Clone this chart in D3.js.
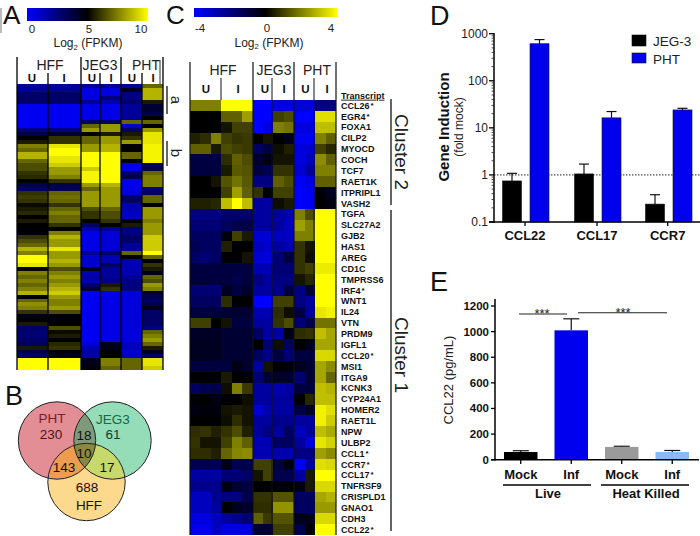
<!DOCTYPE html>
<html><head><meta charset="utf-8">
<script src="https://cdn.jsdelivr.net/npm/d3@7"></script>
<style>
html,body{margin:0;padding:0;background:#fff}
svg{display:block}
text{font-family:"Liberation Sans",Arial,sans-serif;fill:#111}
</style></head><body><div id="c"></div>
<script>
// ---------- Panel A values (Log2 FPKM), one list per condition, rows top to bottom
const hffU=[2,2,3,3,3,.3,.3,.3,.3,.3,.3,2.5,3.5,5,5.5,7.5,7,8.5,8.5,7,6.5,6.5,6,5.8,5,3.5,3,6,6.2,6,5.2,5.5,5.8,5,5.5,5,5,4.8,6,6.5,7,8.5,7.5,10,10,9.5,5,7.5,7,7.5,7,7.5,8.5,5,7,7.8,7.5,6,4.5,5,5.5,3,2.8,2.8,3,3.2,5.5,3.5,3,10,10,10];
const hffI=[2,2,3,3,3,.3,.3,.3,.3,.3,.3,2.5,4,6,6,9.5,10,10,9.5,9.5,9,8,8,7.5,6,3.5,3.5,7,7.2,7,6,7,7.5,7,7,6,5,7.5,8.5,8,8,9.5,8,8,8.5,8,6.5,7.5,8,7.5,8,8.5,9,8,7.5,7.5,8,6.5,5,4.8,5,6.5,5.2,5.5,5,5.8,6,5,4.5,10,10,10];
const jegU=[2,.6,.6,.6,2,.5,.5,.5,.5,3,7,8,5,7,7,8,8,10,10,10,10,9,9.8,9.8,9.8,8,7,8,8,8,8,6.5,6,6,5,3,1.5,.5,.5,.5,.5,.5,2,1,1,1,4.5,1.5,1.8,1.5,3,4,.3,.3,.3,.3,.3,.3,.3,.3,.3,.3,.3,.3,.3,.8,1.5,1.8,1.5,4.5,4.5,4.8];
const jegI=[2,.6,.6,2.5,1.5,.5,.5,.5,.5,3,8,8,5.5,8,8,8.5,8.5,10,10,10,10,10,10,10,10,8.5,8,8,8,8,8,7,6.5,6.5,6,5,2,.8,.8,.8,.8,.8,3,1.5,1.5,3,2,2,2,2.5,5.5,6,.5,.5,.5,.5,.5,.5,.5,.5,.5,.5,.5,.5,.5,4.5,4.5,5,5,7.5,7.5,7];
const phtU=[2,4.5,2.5,2.5,3,2,2,2,2,7,1,3,5.5,6,8,5,5,7,7,5,.5,.5,3,3.5,.5,.5,.5,.8,3,3,1.5,1.5,1.2,1.2,5,5.5,2.5,2.5,3,3,2,2,7,5,1.5,1.5,1.5,1.5,2,2.5,2.5,2.5,.7,.7,.7,.7,.7,.7,.7,.7,.7,.7,.7,.7,.7,1.3,1.3,.8,1.3,7,7,7];
const phtI=[7,8.5,8.5,8.5,5.5,4,4,3.5,5,7,5,8,9.5,9.5,9.5,9.8,9.8,9.8,9.8,9.8,3,3.5,7,7.5,7.5,7.5,2.5,3,7,7,5,8,8,8,7.5,8,8,8,9,9,9,9,10,7,5,6,5.5,4.5,7,6.5,8,7.5,4,3.5,3,3.5,4.5,3,3,3,3,2.5,7,7.5,8,7,5.5,4.5,3,9.5,9.5,9];
const columnsA=[hffU,hffI,jegU,jegI,phtU,phtI];
const groupsA=["HFF","JEG3","PHT"];
const subLabels=["U","I","U","I","U","I"];

// ---------- Panel B venn
const vennLabels=["PHT","JEG3","HFF"];
const vennCounts=[230,61,688,18,143,17,10];

// ---------- Panel C
const genes=["CCL26*","EGR4*","FOXA1","CILP2","MYOCD","COCH","TCF7","RAET1K","ITPRIPL1","VASH2","TGFA","SLC27A2","GJB2","HAS1","AREG","CD1C","TMPRSS6","IRF4*","WNT1","IL24","VTN","PRDM9","IGFL1","CCL20*","MSI1","ITGA9","KCNK3","CYP24A1","HOMER2","RAET1L","NPW","ULBP2","CCL1*","CCR7*","CCL17*","TNFRSF9","CRISPLD1","GNAO1","CDH3","CCL22*"];
const expressionC=[
[2,2,2,4,4,4,-4,-4,-3.5,-3.5,-3.5,-3.5,-2,-2],
[0,0,0,1.5,1.5,2.5,-4,-4,1,1.2,-4,-4,3.5,3.5],
[0,0,0,.3,1,1,-4,-3.5,2,1.8,-3.5,-3.5,3,3],
[.5,.7,2,1,.8,.9,0,.3,0,-.4,-3.8,-3.8,2,1.5],
[1.5,1.5,.4,1.2,1,.9,-1.5,-1,.2,.5,-3.5,-3.3,1,.6],
[-1,-1,-1,.7,1.5,1.2,-.7,-.3,.3,.3,-3.5,-3,2.2,1.5],
[-1,-1,-1,.4,1.4,1.3,-1,-1.3,.8,.8,-3.3,-2.5,2,2],
[0,0,.3,1.3,1.8,1.4,-2,-2,1.5,1.2,-3.8,-3.5,1.5,1.5],
[0,0,0,1,2.5,1.5,.8,0,1,1,-4,-3.8,0,-.5],
[.5,.5,.6,3,4,3,-2.5,-2.5,.2,.4,-4,-3.8,0,-.3],
[-2,-2,-2,-1.7,-1.7,-1.7,-2.5,-2.5,-2.5,-2.8,2,1.2,4,4],
[-1.8,-1.8,-1.8,-1.5,-1.2,-1.2,-2.5,-2.5,-2.5,-3,2.5,2,4,4],
[-1.5,-1.5,-1.5,-.2,1,.4,-3.3,-3.3,-3,-3,2,2,4,4],
[-1.3,-1.5,-1.5,.5,0,0,-3,-3.2,-2.5,-2.8,.8,.3,4,4],
[-1.5,-1.8,-1.5,0,0,.3,-3.3,-3.5,-1.8,-1,.8,.2,4,4],
[-1,-1,-1,-1,-1,-1,-2.8,-2.8,-1.8,-1.8,.8,1,3.7,3.7],
[-1,-1,-1,-1,-1.2,-1,-2,-2.5,-2,-2,.3,.6,4,4],
[-1.8,-1.8,-1.8,-.5,-1,-.7,-2.5,-2.5,-2.2,-1,-2,-.8,4,4],
[-1.5,-1.5,-1.5,.7,0,0,-4,-4,1,1,-2,-2.5,4,4],
[-1,-1,-1,-.8,-.8,-.8,-2.8,-2.8,.7,.2,-1,-2.5,3.6,3.8],
[1,1,0,.3,-1,-1,-2.5,-2.5,.8,1.2,-1.8,-1.2,1.8,1.8],
[-.6,-.6,-.6,-.8,-.8,-.8,-1.5,-2.5,-2.5,-.3,.7,.8,3,2.6],
[-.5,-.5,-.5,-.8,-.8,-.8,0,-1.8,.2,-1.5,0,-.5,2.6,2.6],
[-.5,-.5,-.5,-.8,-.8,-.8,-1.5,-2,-1,-1.8,-1,-1,3.4,3.4],
[-1,-1,-1,-1,-.3,-.7,-2.5,.3,-.2,-.2,-.5,-.8,2.6,2.2],
[0,0,0,.4,0,0,-1.8,-.8,-.7,-.7,-1.8,-.8,2.6,1.6],
[-1.5,-1.2,-1.2,.2,2,.9,-2.5,-2.5,-2.8,-2.5,-1,-1,3,2.8],
[0,0,-.3,0,0,.2,-2.5,-2.5,-2.5,-2.5,0,.6,3,3],
[-.3,-.2,-.2,.3,.4,.3,-3.3,-2.7,-2.5,-2.5,-1,-.5,3.8,3.5],
[0,0,0,.2,.7,.3,-2.5,-2.5,-2.2,-2.2,-2.5,-2.5,3.8,3.2],
[.7,.8,.5,.8,1.2,.5,-2.5,-2,-2.5,-1.5,-3,-2.5,3,2.7],
[.8,.3,.3,1,2,1.5,-2.8,-2.8,-1.5,-1.5,-2.5,-3.5,3.6,3.3],
[.7,.7,.5,1.6,2.1,2.2,-2.8,-2.8,-2.7,-2.7,-2,-2,2.5,2.2],
[-1.2,-1.2,-1.3,-.3,-1.2,-1.2,1,1,-1,-.3,-3.8,-2.5,3.5,3.4],
[-2.5,-2.5,-2.5,-1.8,-1.8,-1.6,.3,1,-1.2,-1.2,-2.5,.4,4,4],
[-2.2,-2.2,-2.2,-.3,-.8,-1,0,0,-.2,-.2,-.3,.4,3.4,3.4],
[-3,-3,-2.2,-2,-2,-1.2,.8,.8,1.3,1.3,-1.5,-1.5,2.6,2.8],
[-3,-3,-2.5,0,-.5,-.7,.7,.7,2.3,2.3,-1.5,-1.5,2.4,2.4],
[-3.5,-3.5,-3,-2.5,-2.2,-1.8,1.5,.9,1.3,1.3,-.4,-.5,3.4,3.4],
[-3.7,-3.7,-3,-3.5,-3.5,-3.5,-.8,-.8,1,1,-1.2,0,4,4]];

// ---------- Panel D
const categoriesD=["CCL22","CCL17","CCR7"];
const seriesD=["JEG-3","PHT"];
const jegMeans=[.745,1.05,.24];
const jegTops=[1.08,1.7,.38];
const phtMeans=[612,16.3,24];
const phtTops=[750,22.2,26];
const ticksD=[1000,100,10,1,0.1];
const minorD=[200,300,400,500,600,700,800,900,20,30,40,50,60,70,80,90,2,3,4,5,6,7,8,9,.2,.3,.4,.5,.6,.7,.8,.9];

// ---------- Panel E
const labelsE=["Mock","Inf","Mock","Inf"];
const meansE=[60,1010,100,60];
const topsE=[70,1100,105,72];
const coloursE=["#000000","#0000ee","#9a9a9a","#8cb9f0"];
const ticksE=[0,200,400,600,800,1000,1200];

const svg=d3.select("#c").append("svg").attr("width",700).attr("height",536);
const defs=svg.append("defs");
const line=(g,x1,y1,x2,y2,w=1,c="#111")=>g.append("line").attr("x1",x1).attr("y1",y1).attr("x2",x2).attr("y2",y2).attr("stroke",c).attr("stroke-width",w);
const txt=(g,x,y,s,size,o={})=>g.append("text").attr("x",x).attr("y",y).attr("font-size",size).attr("text-anchor",o.anchor||"middle").attr("font-weight",o.weight||"normal").style("fill",o.fill||"#111").text(s);

// panel letters
[["A",3,23.7,26],["C",166,23.7,26],["B",5,405,27],["D",430,25,27],["E",430,291,27]].forEach(d=>txt(svg,d[1],d[2],d[0],d[3],{anchor:"start"}));
line(svg,1,8,1,33,1,"#777");

function colourBar(id,x,y,w,h,cols){
  const gr=defs.append("linearGradient").attr("id",id);
  cols.forEach((c,i)=>gr.append("stop").attr("offset",i/(cols.length-1)).attr("stop-color",c));
  svg.append("rect").attr("x",x).attr("y",y).attr("width",w).attr("height",h).attr("fill",`url(#${id})`);
}
function log2Label(cx,y,size){
  const t=svg.append("text").attr("x",cx).attr("y",y).attr("font-size",size).attr("text-anchor","middle").style("fill","#222");
  t.append("tspan").text("Log");
  t.append("tspan").attr("font-size",size*.65).attr("dy",2.5).text("2");
  t.append("tspan").attr("dy",-2.5).text(" (FPKM)");
}
const ramp=["#0000ff","#000000","#ffff00"];

// ----- A
const gA=svg.append("g");
colourBar("barA",27,8,121,13,ramp);
[[32,"0"],[89,"5"],[141,"10"]].forEach(d=>txt(svg,d[0],33,d[1],11.5,{fill:"#222"}));
log2Label(88,47,12);
const colourA=d3.scaleLinear().domain([0,5,10]).range(ramp);
const yA=d3.scaleBand().domain(d3.range(hffU.length)).range([84,370]);
const edgesA=[17,48,81,100,121,142,163];
columnsA.forEach((col,c)=>{
  gA.append("g").attr("shape-rendering","crispEdges").selectAll("rect").data(col).join("rect")
    .attr("x",edgesA[c]).attr("width",edgesA[c+1]-edgesA[c])
    .attr("y",(d,i)=>yA(i)).attr("height",yA.bandwidth()+.4)
    .attr("fill",d=>colourA(d));
});
[17,81,121,163].forEach(x=>line(gA,x,57,x,370,1.3,"#000"));
[48,100,142].forEach(x=>line(gA,x,73,x,370,1.3,"#000"));
line(gA,160,60,160,84,1,"#333");
[[50,"HFF"],[100,"JEG3"],[146,"PHT"]].forEach((d,i)=>txt(gA,d[0],70,groupsA[i],14,{fill:"#222"}));
[32,64,92,111,132,153].forEach((x,i)=>txt(gA,x,82,subLabels[i],11.5,{weight:"bold"}));
line(gA,167,86,167,114,1.3,"#111");
line(gA,167,141,167,166,1.3,"#111");
[["a",100],["b",153]].forEach(d=>{gA.append("text").attr("transform",`translate(171,${d[1]}) rotate(90)`).attr("font-size",15).attr("text-anchor","middle").style("fill","#222").text(d[0]);});

// ----- B venn
const gB=svg.append("g");
const circles=[{cx:57,cy:440.5,r:38.7,f:"#e38d95"},{cx:112.5,cy:440.5,r:38.7,f:"#95dcb9"},{cx:86.5,cy:482,r:38.7,f:"#fdd98e"}];
circles.forEach((c,i)=>{
  defs.append("clipPath").attr("id","v"+i).append("circle").attr("cx",c.cx).attr("cy",c.cy).attr("r",c.r);
});
circles.forEach(c=>gB.append("circle").attr("cx",c.cx).attr("cy",c.cy).attr("r",c.r).attr("fill",c.f));
const overlap=(a,b,f)=>gB.append("g").attr("clip-path",`url(#v${a})`).append("circle").attr("cx",circles[b].cx).attr("cy",circles[b].cy).attr("r",circles[b].r).attr("fill",f);
overlap(0,1,"#7f9a78");
overlap(0,2,"#ee9c50");
overlap(1,2,"#c8d96c");
gB.append("g").attr("clip-path","url(#v0)").append("g").attr("clip-path","url(#v1)").append("circle").attr("cx",circles[2].cx).attr("cy",circles[2].cy).attr("r",circles[2].r).attr("fill","#8a8a3c");
circles.forEach(c=>gB.append("circle").attr("cx",c.cx).attr("cy",c.cy).attr("r",c.r).attr("fill","none").attr("stroke","#222").attr("stroke-width",1));
txt(gB,52,423,vennLabels[0],13.5,{fill:"#7a1a2c"});
txt(gB,51,438.5,vennCounts[0],13.5,{fill:"#4a1620"});
txt(gB,113,423.5,vennLabels[1],13.5,{fill:"#0e6a48"});
txt(gB,113,439,vennCounts[1],13.5,{fill:"#0c3f2c"});
txt(gB,89,510,vennLabels[2],13.5);
txt(gB,87,492,vennCounts[2],13.5);
txt(gB,84,440,vennCounts[3],13.5);
txt(gB,64,472,vennCounts[4],13.5);
txt(gB,107,472,vennCounts[5],13.5);
txt(gB,84,458,vennCounts[6],13.5);

// ----- C
const gC=svg.append("g");
colourBar("barC",194,8,143,9,ramp);
[[200,"-4"],[267,"0"],[331,"4"]].forEach(d=>txt(svg,d[0],32,d[1],11.5,{fill:"#222"}));
log2Label(269,46.7,12);
const colourC=d3.scaleLinear().domain([-4,0,4]).range(ramp).clamp(true);
const yC=d3.scaleBand().domain(genes).range([100,535]);
const xC=d3.scaleBand().domain(d3.range(14)).range([190,336]);
genes.forEach((g,r)=>{
  gC.append("g").attr("shape-rendering","crispEdges").selectAll("rect").data(expressionC[r]).join("rect")
    .attr("x",(d,i)=>xC(i)).attr("width",xC.bandwidth()+.4)
    .attr("y",yC(g)).attr("height",yC.bandwidth()+.4)
    .attr("fill",d=>colourC(d));
});
[190,253,294,336].forEach(x=>line(gC,x,62,x,535,1.2,"#111"));
[272,314].forEach(x=>line(gC,x,78,x,535,1,"#111"));
line(gC,221,78,221,100,1,"#111");
[223,274,317].forEach((x,i)=>txt(gC,x,75,groupsA[i],14,{fill:"#222"}));
[206,238,265,284,305.5,327].forEach((x,i)=>txt(gC,x,93,subLabels[i],11.5,{weight:"bold"}));
txt(gC,341,98.7,"Transcript",9,{anchor:"start",weight:"bold"}).attr("text-decoration","underline");
genes.forEach(g=>{
  txt(gC,341,yC(g)+yC.bandwidth()/2+3.3,g.replace("*",""),9,{anchor:"start",weight:"bold"}).call(t=>{
    if(g.includes("*")) t.append("tspan").attr("font-size",8).attr("dx",1).attr("dy",-1).text("*");
  });
});
line(gC,391,99,391,205,1.3,"#111");
line(gC,391,210,391,531,1.3,"#111");
[["Cluster 2",152],["Cluster 1",355]].forEach(d=>gC.append("text").attr("transform",`translate(395,${d[1]}) rotate(90)`).attr("font-size",19).attr("text-anchor","middle").style("fill","#222").text(d[0]));

// ----- D
const gD=svg.append("g");
const yD=d3.scaleLog().domain([0.1,1000]).range([222,33.7]);
const barW=19;
line(gD,494,yD(1),700,yD(1),1,"#222").attr("stroke-dasharray","1.5,1.5");
[[jegMeans,jegTops,"#000"],[phtMeans,phtTops,"#0000ee"]].forEach((s,si)=>{
  categoriesD.forEach((c,i)=>{
    const cx=[525.5,597.5,668.5][i];
    const x=cx+(si==0?-23:4.5);
    line(gD,x+barW/2,yD(s[0][i]),x+barW/2,yD(s[1][i]),1.2,"#111");
    line(gD,x+barW/2-5,yD(s[1][i]),x+barW/2+5,yD(s[1][i]),1.2,"#111");
    gD.append("rect").attr("x",x).attr("width",barW).attr("y",yD(s[0][i])).attr("height",yD(.1)-yD(s[0][i])).attr("fill",s[2]).attr("stroke","#111").attr("stroke-width",.6);
  });
});
line(gD,494,33,494,223,1.5,"#000");
line(gD,489,222,700,222,1.5,"#000");
ticksD.forEach(t=>{
  line(gD,489,yD(t),494,yD(t),1.3,"#000");
  txt(gD,488,yD(t)+4,t,12,{anchor:"end",fill:"#222"});
});
minorD.forEach(t=>line(gD,491.5,yD(t),494,yD(t),.8,"#222"));
categoriesD.forEach((c,i)=>{
  txt(gD,[525,597,667.7][i],239.5,c,13,{weight:"bold"});
  line(gD,[525,597,667.7][i],222,[525,597,667.7][i],226,1.3,"#000");
});
gD.append("text").attr("transform","translate(449,127) rotate(-90)").attr("font-size",15).attr("font-weight","bold").attr("text-anchor","middle").style("fill","#111").text("Gene Induction");
gD.append("text").attr("transform","translate(463,127) rotate(-90)").attr("font-size",12).attr("text-anchor","middle").style("fill","#222").text("(fold mock)");
seriesD.forEach((s,i)=>{
  gD.append("rect").attr("x",632).attr("y",[35,53][i]).attr("width",14).attr("height",[11,10][i]).attr("fill",i?"#0000ee":"#000").attr("stroke","#111").attr("stroke-width",.6);
  txt(gD,653,[45.5,63.5][i],s,13.5,{anchor:"start",fill:"#222"});
});

// ----- E
const gE=svg.append("g");
const yE=d3.scaleLinear().domain([0,1200]).range([459.7,306]);
const edgesE=[504,554.5,605,655.5];
const wE=33.5;
meansE.forEach((m,i)=>{
  const mid=edgesE[i]+wE/2;
  line(gE,mid,yE(m),mid,yE(topsE[i]),1.2,"#111");
  line(gE,mid-8,yE(topsE[i]),mid+8,yE(topsE[i]),1.2,"#111");
  gE.append("rect").attr("x",edgesE[i]).attr("width",wE).attr("y",yE(m)).attr("height",yE(0)-yE(m)).attr("fill",coloursE[i]);
  line(gE,mid,459.7,mid,464,1.3,"#000");
  txt(gE,mid,478.5,labelsE[i],13,{weight:"bold"});
});
line(gE,495,299,495,460.5,1.5,"#000");
line(gE,491,459.7,699,459.7,1.5,"#000");
ticksE.forEach(t=>{
  line(gE,491,yE(t),495,yE(t),1.3,"#000");
  txt(gE,489,yE(t)+4,t,11.5,{anchor:"end",fill:"#111",weight:"bold"});
});
line(gE,503,485,591,485,1.4,"#000");
line(gE,601,485,689,485,1.4,"#000");
txt(gE,548,498,"Live",13,{weight:"bold"});
txt(gE,646,498,"Heat Killed",13,{weight:"bold"});
line(gE,519,314,567,314,1.1,"#222");
line(gE,578,312.7,667,312.7,1.1,"#222");
txt(gE,542,318,"***",13,{fill:"#222"});
txt(gE,623,317,"***",13,{fill:"#222"});
gE.append("text").attr("transform","translate(453,380) rotate(-90)").attr("font-size",13).attr("text-anchor","middle").style("fill","#222").text("CCL22 (pg/mL)");
</script></body></html>
